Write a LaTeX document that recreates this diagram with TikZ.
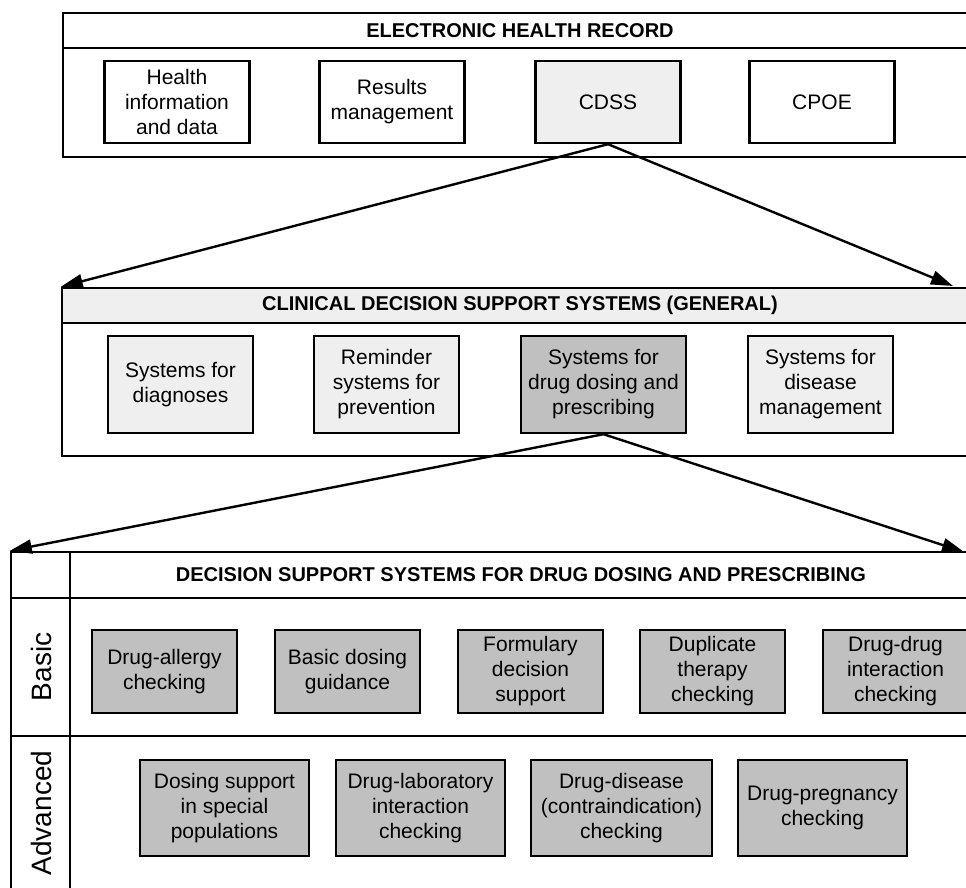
\documentclass[tikz,border=0pt]{standalone}
\usepackage{fontspec}
\setmainfont{Liberation Sans}
\usepackage{xcolor}
\definecolor{lightgrey}{RGB}{239,239,239}
\definecolor{darkgrey}{RGB}{192,192,192}
\usepackage{tikz}
\usetikzlibrary{arrows.meta}
\newcommand{\widthbox}{72.5pt}
\newcommand{\widthwide}{84.5pt}
\tikzset{
    common/.style={draw, rectangle, line width=1.2pt, align=center, inner sep=2pt,
        font=\fontsize{10.5}{12.5}\selectfont},
    panel/.style={draw, rectangle, line width=1.2pt, inner sep=0pt},
    title/.style={font=\fontsize{10}{12}\selectfont\bfseries},
    record/.style={common, minimum width=\widthbox, minimum height=41pt},
    general/.style={common, fill=lightgrey, minimum width=\widthbox, minimum height=48.5pt},
    basic/.style={common, fill=darkgrey, minimum width=\widthbox, minimum height=41.5pt},
    advanced/.style={common, fill=darkgrey, minimum width=\widthwide, minimum height=48pt},
    tier/.style={rotate=90, font=\fontsize{14}{16}\selectfont},
    link/.style={line width=1.2pt, -{Triangle[length=11pt, width=7pt]}}
}
\begin{document}
\begin{tikzpicture}[x=0.5pt, y=-0.5pt]
    \useasboundingbox (0,0) rectangle (966,888);
    \clip (0,0) rectangle (966,888);

    \node[panel, minimum width=457pt, minimum height=72pt] (ehr) at (520,85) {};
    \draw[line width=1.2pt] (ehr.west |- 0,48) -- (ehr.east |- 0,48);
    \node[title] (ehrtitle) at (520,30.5) {ELECTRONIC HEALTH RECORD};
    \node[record] (health) at (177,102) {Health\\information\\and data};
    \node[record] (results) at (392,102) {Results\\management};
    \node[record, fill=lightgrey] (cdss) at (608,102) {CDSS};
    \node[record] (cpoe) at (822,102) {CPOE};

    \node[panel, minimum width=458pt, minimum height=84pt] (gen) at (520,372) {};
    \node[panel, title, fill=lightgrey, minimum width=458pt, minimum height=17.5pt] (genhead) at (520,305.5)
        {CLINICAL DECISION SUPPORT SYSTEMS (GENERAL)};
    \node[general] (diagnoses) at (180.5,384.5) {Systems for\\diagnoses};
    \node[general] (reminder) at (386.5,384.5) {Reminder\\systems for\\prevention};
    \node[general, fill=darkgrey, minimum width=82.5pt] (dosing) at (603.5,384.5) {Systems for\\drug dosing and\\prescribing};
    \node[general] (disease) at (820.5,384.5) {Systems for\\disease\\management};

    \node[panel, minimum width=480.5pt, minimum height=171.5pt] (dss) at (491.5,723.5) {};
    \draw[line width=1.2pt] (dss.north -| 70,0) -- (dss.south -| 70,0);
    \draw[line width=1.2pt] (dss.west |- 0,598) -- (dss.east |- 0,598);
    \draw[line width=1.2pt] (dss.west |- 0,736) -- (dss.east |- 0,736);
    \node[title] (dsstitle) at (521,575) {DECISION SUPPORT SYSTEMS FOR DRUG DOSING AND PRESCRIBING};
    \node[tier] (basiclabel) at (41,667) {Basic};
    \node[tier] (advlabel) at (41,813) {Advanced};

    \node[basic] (allergy) at (164.5,671.5) {Drug-allergy\\checking};
    \node[basic] (guidance) at (347.5,671.5) {Basic dosing\\guidance};
    \node[basic] (formulary) at (530.5,671.5) {Formulary\\decision\\support};
    \node[basic] (duplicate) at (712.5,671.5) {Duplicate\\therapy\\checking};
    \node[basic] (drugdrug) at (895.5,671.5) {Drug-drug\\interaction\\checking};

    \node[advanced] (special) at (224.5,808) {Dosing support\\in special\\populations};
    \node[advanced] (laboratory) at (420.5,808) {Drug-laboratory\\interaction\\checking};
    \node[advanced, minimum width=90.5pt] (contra) at (621.5,808) {Drug-disease\\(contraindication)\\checking};
    \node[advanced] (pregnancy) at (822.5,808) {Drug-pregnancy\\checking};

    \coordinate (genne) at (953,286);
    \coordinate (dssne) at (964,552);
    \draw[link] (cdss.south) -- (gen.north west);
    \draw[link] (cdss.south) -- (genne);
    \draw[link] (dosing.south) -- (dss.north west);
    \draw[link] (dosing.south) -- (dssne);
\end{tikzpicture}
\end{document}
